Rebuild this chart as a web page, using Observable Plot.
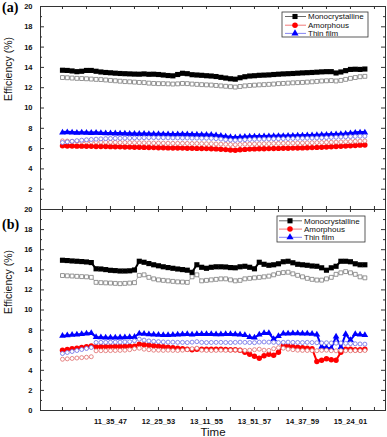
<!DOCTYPE html>
<html><head><meta charset="utf-8">
<script src="https://cdn.jsdelivr.net/npm/d3@7"></script>
<script src="https://cdn.jsdelivr.net/npm/@observablehq/plot@0.6"></script>
<style>
body{margin:0;background:#fff;}
#wrap{position:relative;width:387px;height:437px;overflow:hidden;font-family:"Liberation Sans",Arial,sans-serif;}
#wrap svg{position:absolute;left:0;overflow:visible;}
.lab{position:absolute;left:2px;font-family:"Liberation Serif",serif;font-weight:bold;font-size:14px;line-height:14px;}
</style></head><body><div id="wrap"></div>
<script>
// ---- data (sample index along the time axis) ----
const timeLabels = ["11_35_47","12_25_53","13_11_55","13_51_57","14_37_59","15_24_01"];
const timeTickIdx = [10,20,30,40,50,60];
const seriesNames = ["Monocrystalline","Amorphous","Thin film"];
const yLabelsA = [2,4,6,8,10,12,14,16,18,20];
const yLabelsB = [0,2,4,6,8,10,12,14,16,18,20];

// panel (a)
const aMono = [13.72,13.70,13.65,13.58,13.62,13.70,13.70,13.62, 13.55,13.50,13.47,13.43,13.40,13.38,13.36,13.34,
 13.33,13.36,13.32,13.33,13.30,13.25,13.20,13.17, 13.30,13.42,13.38,13.28,13.25,13.22,13.18,13.15,
 13.10,13.02,12.95,12.88,12.84,12.98,13.08,13.15, 13.18,13.22,13.24,13.26,13.30,13.33,13.36,13.38,
 13.40,13.43,13.46,13.48,13.50,13.53,13.56,13.58, 13.58,13.45,13.55,13.68,13.80,13.82,13.80,13.84];
const aMonoH = [13.00,12.98,12.95,12.92,12.90,12.88,12.85,12.82, 12.80,12.76,12.72,12.68,12.64,12.60,12.58,12.55,
 12.52,12.50,12.45,12.42,12.40,12.40,12.38,12.36, 12.38,12.42,12.40,12.36,12.33,12.30,12.28,12.26,
 12.22,12.18,12.14,12.10,12.06,12.12,12.18,12.22, 12.25,12.28,12.30,12.33,12.36,12.40,12.42,12.45,
 12.48,12.50,12.52,12.55,12.58,12.62,12.66,12.68, 12.70,12.66,12.72,12.82,12.92,13.00,13.08,13.12];
const aThin = [7.58,7.60,7.58,7.56,7.57,7.55,7.54,7.55, 7.52,7.50,7.50,7.49,7.48,7.47,7.46,7.45,
 7.44,7.45,7.43,7.42,7.42,7.41,7.40,7.39, 7.40,7.41,7.39,7.38,7.37,7.36,7.35,7.34,
 7.30,7.25,7.18,7.12,7.08,7.12,7.15,7.17, 7.18,7.19,7.20,7.21,7.22,7.23,7.24,7.25,
 7.26,7.27,7.28,7.29,7.30,7.32,7.34,7.36, 7.38,7.40,7.42,7.45,7.50,7.55,7.58,7.58];
const aThinH = [6.60,6.66,6.72,6.78,6.83,6.87,6.90,6.93, 6.96,6.98,7.00,7.01,7.02,7.03,7.04,7.05,
 7.06,7.07,7.08,7.08,7.08,7.07,7.06,7.05, 7.05,7.04,7.04,7.03,7.03,7.02,7.02,7.01,
 6.98,6.94,6.88,6.84,6.82,6.85,6.88,6.90, 6.92,6.93,6.94,6.95,6.96,6.97,6.98,6.99,
 7.00,7.01,7.02,7.03,7.04,7.05,7.06,7.08, 7.10,7.12,7.14,7.16,7.18,7.20,7.22,7.22];
const aAmorH = [6.76,6.74,6.72,6.70,6.69,6.68,6.67,6.66, 6.65,6.64,6.63,6.62,6.60,6.60,6.59,6.58,
 6.57,6.57,6.56,6.55,6.55,6.54,6.53,6.52, 6.52,6.52,6.51,6.50,6.50,6.49,6.48,6.48,
 6.46,6.44,6.42,6.40,6.38,6.40,6.43,6.45, 6.46,6.47,6.48,6.49,6.50,6.51,6.52,6.53,
 6.54,6.55,6.56,6.57,6.58,6.59,6.60,6.62, 6.63,6.64,6.66,6.68,6.70,6.72,6.74,6.76];
const aAmor = [6.27,6.26,6.25,6.24,6.24,6.23,6.22,6.21, 6.20,6.20,6.19,6.18,6.17,6.16,6.15,6.14,
 6.13,6.12,6.11,6.10,6.09,6.08,6.07,6.06, 6.06,6.05,6.04,6.03,6.02,6.01,6.00,5.99,
 5.97,5.94,5.90,5.86,5.84,5.88,5.92,5.95, 5.97,5.98,5.99,6.00,6.01,6.02,6.03,6.04,
 6.05,6.06,6.07,6.08,6.10,6.12,6.14,6.16, 6.18,6.20,6.22,6.25,6.28,6.31,6.34,6.36];

// panel (b)
const bMono = [14.95,14.92,14.88,14.85,14.82,14.78,14.72,14.10, 14.08,14.02,13.95,13.92,13.88,13.88,13.90,13.98,
 14.85,14.75,14.62,14.50,14.40,14.30,14.22,14.15, 14.08,14.02,13.96,13.75,14.50,14.25,14.15,14.25,
 14.30,14.30,14.28,14.22,14.20,14.30,14.35,14.25, 14.10,14.75,14.55,14.45,14.50,14.60,14.80,14.85,
 14.70,14.55,14.50,14.45,14.38,14.35,14.20,13.96, 14.20,14.35,14.85,14.85,14.80,14.60,14.50,14.50];
const bMonoH = [13.43,13.40,13.38,13.35,13.32,13.30,13.25,12.75, 12.72,12.70,12.68,12.65,12.62,12.65,12.68,12.72,
 13.45,13.50,13.25,13.10,13.00,12.95,12.90,12.85, 12.80,12.78,12.75,13.30,13.50,12.90,12.95,13.00,
 13.05,13.10,13.10,13.00,12.90,12.95,13.10,13.15, 13.20,13.25,13.30,13.37,13.50,13.65,13.72,13.76,
 13.60,13.45,13.30,13.15,13.05,12.98,12.97,13.10, 13.25,13.55,13.70,13.82,13.70,13.55,13.30,13.20];
const bThin = [7.43,7.47,7.52,7.56,7.60,7.65,7.70,7.30, 7.28,7.26,7.25,7.26,7.27,7.28,7.30,7.32,
 7.66,7.62,7.58,7.55,7.52,7.50,7.50,7.52, 7.55,7.58,7.60,7.55,7.60,7.60,7.60,7.60,
 7.58,7.58,7.60,7.60,7.58,7.55,7.50,7.30, 7.25,7.55,7.70,7.70,7.10,7.40,7.66,7.66,
 7.68,7.68,7.66,7.66,7.62,7.55,6.35,6.25, 6.20,7.35,6.30,7.60,7.00,7.60,7.55,7.50];
const bThinH = [5.67,5.77,5.87,5.97,6.07,6.17,6.27,6.77, 6.78,6.78,6.79,6.80,6.80,6.82,6.85,6.95,
 7.10,7.00,6.92,6.88,6.85,6.82,6.80,6.80, 6.78,6.78,6.76,6.80,6.85,6.78,6.76,6.77,
 6.78,6.78,6.77,6.76,6.78,6.80,6.78,6.76, 6.75,6.80,6.82,6.80,6.78,6.76,6.78,6.80,
 6.78,6.77,6.76,6.78,6.76,6.74,6.72,6.74, 6.72,6.70,6.72,6.68,6.66,6.64,6.62,6.60];
const bAmor = [6.00,6.07,6.14,6.21,6.28,6.35,6.43,6.34, 6.35,6.36,6.36,6.37,6.38,6.38,6.39,6.40,
 6.60,6.55,6.50,6.45,6.40,6.35,6.30,6.25, 6.20,6.15,6.10,6.05,6.10,6.10,6.10,6.10,
 6.10,6.10,6.08,6.05,6.05,6.00,5.80,5.60, 5.40,5.20,5.45,5.60,5.50,5.80,6.45,6.40,
 6.35,6.30,6.25,6.20,6.15,4.88,5.00,5.15, 5.05,5.00,5.80,6.10,6.10,6.05,6.05,6.10];
const bAmorH = [5.10,5.14,5.18,5.22,5.26,5.30,5.35,5.94, 5.95,5.95,5.96,5.97,5.98,6.00,6.05,6.15,
 6.20,6.10,6.05,6.00,6.00,5.98,6.00,5.98, 5.97,6.00,6.05,6.15,6.20,6.00,5.98,5.97,
 5.98,6.00,5.98,6.00,6.02,6.00,5.98,6.00, 6.05,6.10,6.00,5.98,6.15,6.25,6.20,6.10,
 6.05,6.00,5.98,5.97,5.96,5.95,5.98,6.00, 5.95,5.94,5.96,5.95,5.94,5.96,5.95,5.97];

// ---- drawing ----
const W = 387, ML = 40, MR = 2, FW = W - ML - MR;
const AX = "#333";
const C = {mono:"#000", amor:"#ff0000", thin:"#0000ff", monoH:"#7a7a7a", amorH:"#e06a6a", thinH:"#6a6ae6"};
const rows = arr => arr.map((v, i) => ({i, v}));

function seriesMarks(set, lw) {
  const m = [];
  m.push(Plot.line(rows(set.monoH), {x:"i", y:"v", stroke:C.monoH, strokeWidth:0.6}));
  m.push(Plot.dot(rows(set.monoH), {x:"i", y:"v", symbol:"square", r:2.2, fill:"#fff", stroke:C.monoH, strokeWidth:0.8}));
  m.push(Plot.line(rows(set.mono), {x:"i", y:"v", stroke:C.mono, strokeWidth:lw}));
  m.push(Plot.dot(rows(set.mono), {x:"i", y:"v", symbol:"square", r:2.9, fill:C.mono}));
  m.push(Plot.line(rows(set.amor), {x:"i", y:"v", stroke:C.amor, strokeWidth:lw}));
  m.push(Plot.dot(rows(set.amor), {x:"i", y:"v", symbol:"circle", r:2.7, fill:C.amor}));
  m.push(Plot.line(rows(set.thin), {x:"i", y:"v", stroke:C.thin, strokeWidth:lw}));
  m.push(Plot.dot(rows(set.thin), {x:"i", y:"v", symbol:"triangle", r:2.5, fill:C.thin}));
  m.push(Plot.dot(rows(set.amorH), {x:"i", y:"v", symbol:"circle", r:2, fill:"#fff", stroke:C.amorH, strokeWidth:0.8}));
  m.push(Plot.dot(rows(set.thinH), {x:"i", y:"v", symbol:"circle", r:2, fill:"#fff", stroke:C.thinH, strokeWidth:0.8}));
  return m;
}

function panel({set, height, marginTop, marginBottom, yLabels, withX, titleDy, lw}) {
  const FH = height - marginTop - marginBottom;
  const yMajor = d3.range(0, 21, 2), yMinor = d3.range(1, 20, 2);
  const xTicks = d3.range(0, 66, 5);
  const marks = [
    ...seriesMarks(set, lw),
    Plot.frame({stroke:AX}),
    Plot.tickY(yMajor, {y:d=>d, insetRight:FW-4, stroke:AX}),
    Plot.tickY(yMinor, {y:d=>d, insetRight:FW-2, stroke:AX}),
    Plot.tickY(yMajor, {y:d=>d, insetLeft:FW-4, stroke:AX}),
    Plot.tickY(yMinor, {y:d=>d, insetLeft:FW-2, stroke:AX}),
    Plot.tickX(xTicks, {x:d=>d, insetBottom:FH-3, stroke:AX}),
    Plot.tickX(xTicks, {x:d=>d, insetTop:FH-3, stroke:AX}),
    Plot.axisY(yLabels, {anchor:"left", tickSize:0, tickPadding:8, fontWeight:"bold", fontSize:7.5, label:null, tickFormat:d=>String(d)}),
    Plot.text(["Efficiency (%)"], {text:d=>d, frameAnchor:"left", rotate:-90, dx:-32, dy:titleDy, fontSize:10.5, fill:"#111"})
  ];
  if (withX) {
    marks.push(Plot.axisX(timeTickIdx, {anchor:"bottom", tickSize:0, tickPadding:8, fontWeight:"bold", fontSize:7.5,
      label:null, tickFormat:d=>timeLabels[timeTickIdx.indexOf(d)]}));
    marks.push(Plot.text(["Time"], {text:d=>d, frameAnchor:"bottom", dy:22, fontSize:11.5, lineAnchor:"middle", fill:"#111"}));
  }
  return Plot.plot({
    width:W, height, marginLeft:ML, marginRight:MR, marginTop, marginBottom,
    x:{domain:[-4.58, 67.3], axis:null},
    y:{domain:[0, 20], axis:null},
    style:{background:"transparent", overflow:"visible", fontFamily:"'Liberation Sans', Arial, sans-serif", color:"#111"},
    marks
  });
}

function legend(svg, x0, y0, w, h, rowYs, lineX0, lineX1, markX, textX) {
  const g = d3.select(svg).append("g").attr("text-anchor", "start");
  g.append("rect").attr("x", x0).attr("y", y0).attr("width", w).attr("height", h)
    .attr("fill", "#fff").attr("stroke", AX).attr("stroke-width", 0.8);
  const spec = [
    {line:"#444", fill:C.mono, sym:d3.symbolSquare, size:26},
    {line:"#e55", fill:C.amor, sym:d3.symbolCircle, size:24},
    {line:"#66e", fill:C.thin, sym:d3.symbolTriangle, size:22}
  ];
  seriesNames.forEach((name, k) => {
    const y = rowYs[k];
    g.append("line").attr("x1", lineX0).attr("x2", lineX1).attr("y1", y).attr("y2", y)
      .attr("stroke", spec[k].line).attr("stroke-width", 0.8);
    g.append("path").attr("d", d3.symbol(spec[k].sym, spec[k].size)())
      .attr("transform", `translate(${markX},${y})`).attr("fill", spec[k].fill);
    g.append("text").attr("x", textX).attr("y", y).attr("dy", "0.35em").attr("text-anchor", "start")
      .attr("font-size", 8).attr("font-family", "'Liberation Sans', Arial, sans-serif").attr("fill", "#111").text(name);
  });
}

const wrap = document.getElementById("wrap");
const svgA = panel({set:{mono:aMono, monoH:aMonoH, amor:aAmor, amorH:aAmorH, thin:aThin, thinH:aThinH},
  height:209, marginTop:6, marginBottom:0, yLabels:yLabelsA, withX:false, titleDy:-7, lw:3});
svgA.style.top = "0px";
legend(svgA, 282, 12, 86, 25, [16.5, 25.2, 33.4], 285, 306, 295, 308);
const svgB = panel({set:{mono:bMono, monoH:bMonoH, amor:bAmor, amorH:bAmorH, thin:bThin, thinH:bThinH},
  height:229, marginTop:1, marginBottom:27, yLabels:yLabelsB, withX:true, titleDy:4, lw:2});
svgB.style.top = "208px";
legend(svgB, 277, 8, 88, 26, [12.8, 21.1, 29.3], 279, 302, 290, 304);
wrap.appendChild(svgB);
wrap.appendChild(svgA);
const la = document.createElement("div"); la.className = "lab"; la.style.top = "1px"; la.textContent = "(a)"; wrap.appendChild(la);
const lb = document.createElement("div"); lb.className = "lab"; lb.style.top = "218px"; lb.textContent = "(b)"; wrap.appendChild(lb);
</script>
</body></html>
